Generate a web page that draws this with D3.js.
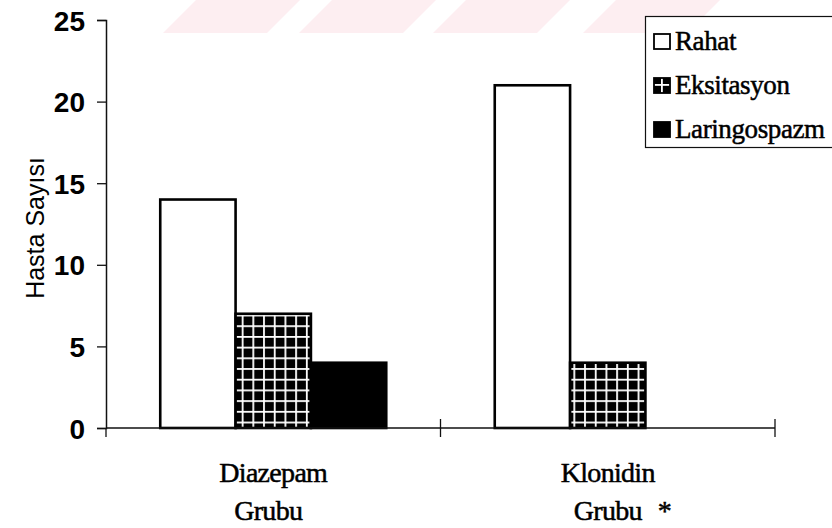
<!DOCTYPE html>
<html>
<head>
<meta charset="utf-8">
<script src="https://cdn.jsdelivr.net/npm/d3@7"></script>
</head>
<body style="margin:0;padding:0;background:#fff">
<svg id="chart" width="832" height="528" style="display:block"></svg>
<script>
// ---- data ----
const categories = ["Diazepam", "Klonidin"];
const categoryLine2 = ["Grubu", "Grubu"];
const categoryMarks = ["", "*"];
const seriesNames = ["Rahat", "Eksitasyon", "Laringospazm"];
const rahat = [14, 21];
const eksitasyon = [7, 4];
const laringospazm = [4, 0];
const yTicks = [0, 5, 10, 15, 20, 25];
const yTitle = "Hasta Sayısı";

const seriesValues = [rahat, eksitasyon, laringospazm];

const SERIF = '"Liberation Serif"';
const SANS = '"Liberation Sans"';

// ---- layout ----
const svg = d3.select("#chart");
const plot = { left: 106, right: 775, top: 20, bottom: 428 };

const x0 = d3.scaleBand().domain(categories).range([plot.left, plot.right]).paddingInner(0).paddingOuter(0);
const x1 = d3.scaleBand().domain(seriesNames).range([0, x0.bandwidth()]).paddingInner(0).paddingOuter(0.72);
const y = d3.scaleLinear().domain([0, 25]).range([plot.bottom, plot.top]);

// ---- defs: grid pattern ----
const defs = svg.append("defs");
function makeGrid(id, ox, oy) {
  const s = 10.7;
  const p = defs.append("pattern").attr("id", id)
    .attr("patternUnits", "userSpaceOnUse")
    .attr("width", s).attr("height", s)
    .attr("patternTransform", `translate(${ox},${oy})`);
  p.append("rect").attr("width", s).attr("height", s).attr("fill", "#000");
  p.append("rect").attr("x", 0).attr("y", 0).attr("width", 1.8).attr("height", s).attr("fill", "#fff");
  p.append("rect").attr("x", 0).attr("y", 0).attr("width", s).attr("height", 1.8).attr("fill", "#fff");
}
makeGrid("grid", 241.7, 428 - 10.7 * 0.6);
makeGrid("gridLegend", 661, 84);

// ---- watermark (faint decorative bands) ----
const wm = svg.append("g").attr("fill", "#fdeef1");
[163, 299, 433, 583].forEach(bx => {
  wm.append("path").attr("d", `M${bx},33 L${bx + 104},33 L${bx + 137},0 L${bx + 33},0 Z`);
});

// ---- bars ----
const fills = ["#fff", "url(#grid)", "#000"];
const bars = [];
categories.forEach((c, ci) => {
  seriesNames.forEach((s, si) => {
    bars.push({ cat: c, series: s, si, value: seriesValues[si][ci] });
  });
});
svg.append("g").selectAll("rect").data(bars.filter(d => d.value > 0)).join("rect")
  .attr("x", d => x0(d.cat) + x1(d.series))
  .attr("y", d => y(d.value))
  .attr("width", x1.bandwidth())
  .attr("height", d => y(0) - y(d.value))
  .attr("fill", d => fills[d.si])
  .attr("stroke", "#000")
  .attr("stroke-width", 2.6);

// ---- y axis ----
const yAxis = d3.axisLeft(y).tickValues(yTicks).tickSize(9).tickPadding(12).tickFormat(d3.format("d"));
const gy = svg.append("g").attr("transform", `translate(${plot.left},0)`).call(yAxis);
gy.select(".domain").attr("stroke", "#111").attr("stroke-width", 1.5);
gy.selectAll(".tick line").attr("stroke", "#111").attr("stroke-width", 1.3);
gy.selectAll(".tick text")
  .style("font-family", SANS)
  .style("font-size", "28px").style("font-weight", "bold").attr("fill", "#000")
  .attr("dy", "0.36em");

// ---- x axis ----
svg.append("line")
  .attr("x1", plot.left).attr("x2", plot.right)
  .attr("y1", y(0)).attr("y2", y(0))
  .attr("stroke", "#111").attr("stroke-width", 1.5);
const xTickPos = [plot.left].concat(categories.map(c => x0(c) + x0.bandwidth()));
svg.append("g").selectAll("line").data(xTickPos).join("line")
  .attr("x1", d => d).attr("x2", d => d)
  .attr("y1", (d, i) => i === 0 ? y(0) : y(0) - 9)
  .attr("y2", y(0) + 9)
  .attr("stroke", "#111").attr("stroke-width", 1.3);

// ---- category labels ----
function serifText(sel, size) {
  return sel.style("font-family", SERIF).style("font-size", size + "px")
    .style("letter-spacing", "-0.7px")
    .attr("fill", "#000").attr("stroke", "#000").attr("stroke-width", 0.5);
}
const cl = svg.append("g");
categories.forEach((c, i) => {
  const cx = x0(c) + x0.bandwidth() / 2;
  serifText(cl.append("text").attr("x", cx).attr("y", 482).attr("text-anchor", "middle"), 28).text(c);
  const t2 = serifText(cl.append("text").attr("y", 520), 28);
  if (categoryMarks[i]) {
    t2.attr("x", cx - 34).attr("text-anchor", "start");
    t2.append("tspan").text(categoryLine2[i]);
    t2.append("tspan").attr("dx", 16).text(categoryMarks[i]);
  } else {
    t2.attr("x", cx - 5).attr("text-anchor", "middle").text(categoryLine2[i]);
  }
});

// ---- y title ----
svg.append("text")
  .attr("transform", `translate(44,228) rotate(-90)`)
  .attr("text-anchor", "middle")
  .style("font-family", SANS).style("font-size", "25px").attr("fill", "#000")
  .text(yTitle);

// ---- legend ----
const lg = svg.append("g");
lg.append("rect").attr("x", 645.5).attr("y", 16.5).attr("width", 200).attr("height", 131)
  .attr("fill", "#fff").attr("stroke", "#111").attr("stroke-width", 1.2);
const legendFills = ["#fff", "url(#gridLegend)", "#000"];
seriesNames.forEach((s, i) => {
  const base = 50 + i * 44;
  lg.append("rect").attr("x", 654).attr("y", base - 16).attr("width", 16).attr("height", 15)
    .attr("fill", legendFills[i]).attr("stroke", "#000").attr("stroke-width", 1.8);
  serifText(lg.append("text").attr("x", 675).attr("y", base), 27)
    .style("letter-spacing", "-0.4px").text(s);
});
</script>
</body>
</html>
